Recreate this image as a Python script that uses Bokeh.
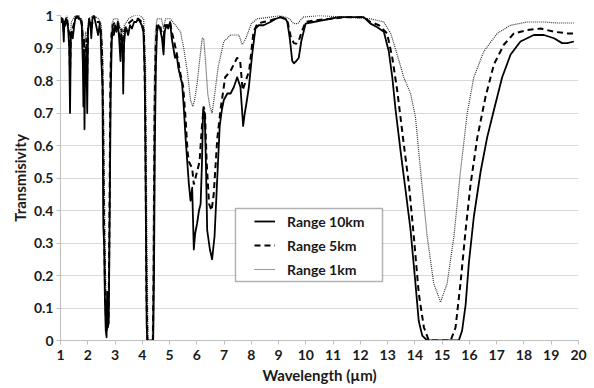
from bokeh.plotting import figure
from bokeh.models import Range1d, Legend, LegendItem, BoxAnnotation, FixedTicker, PrintfTickFormatter
from bokeh.embed import file_html
from bokeh.resources import INLINE

# ---- data ----
x_ticks = list(range(1, 21))
y_ticks = [0, 0.1, 0.2, 0.3, 0.4, 0.5, 0.6, 0.7, 0.8, 0.9, 1.0]
series_labels = ["Range 10km", "Range 5km", "Range 1km"]
x_title = "Wavelength (µm)"
y_title = "Transmisivity"

wl_10km = [1.00, 1.04, 1.07, 1.10, 1.12, 1.14, 1.17, 1.20, 1.24, 1.28, 1.32, 1.35, 1.38, 1.41, 1.45, 1.49,
           1.54, 1.60, 1.66, 1.72, 1.78, 1.82, 1.84, 1.86, 1.88, 1.90, 1.92, 1.95, 1.98, 2.01, 2.05, 2.10,
           2.13, 2.17, 2.22, 2.28, 2.33, 2.38, 2.43, 2.47, 2.50, 2.54, 2.57, 2.60, 2.63, 2.66, 2.69, 2.71,
           2.74, 2.77, 2.80, 2.84, 2.88, 2.92, 2.96, 3.00, 3.05, 3.10, 3.15, 3.20, 3.24, 3.28, 3.30, 3.33,
           3.37, 3.42, 3.48, 3.55, 3.62, 3.70, 3.78, 3.85, 3.92, 3.98, 4.04, 4.09, 4.13, 4.16, 4.18, 4.40,
           4.43, 4.46, 4.50, 4.54, 4.59, 4.65, 4.72, 4.78, 4.82, 4.88, 4.95, 5.02, 5.08, 5.14, 5.20, 5.26,
           5.32, 5.40, 5.46, 5.52, 5.59, 5.65, 5.71, 5.77, 5.83, 5.89, 5.94, 6.01, 6.08, 6.14, 6.19, 6.23,
           6.29, 6.34, 6.38, 6.48, 6.56, 6.65, 6.75, 6.84, 6.92, 6.99, 7.12, 7.24, 7.36, 7.48, 7.60, 7.70,
           7.76, 7.82, 7.91, 8.03, 8.15, 8.27, 8.45, 8.70, 8.90, 9.07, 9.25, 9.32, 9.41, 9.50, 9.56, 9.65,
           9.74, 9.83, 9.99, 10.28, 10.60, 10.90, 11.20, 11.53, 11.80, 12.12, 12.37, 12.62, 12.86, 13.04,
           13.17, 13.29, 13.47, 13.66, 13.84, 14.02, 14.14, 14.27, 14.45, 15.61, 15.73, 15.86, 15.98, 16.16,
           16.41, 16.65, 16.90, 17.20, 17.51, 17.87, 18.36, 18.73, 19.10, 19.40, 19.59, 19.83]
t_10km = [0.99, 0.98, 0.99, 0.96, 0.92, 0.98, 0.97, 0.99, 0.98, 0.96, 0.90, 0.70, 0.93, 0.95, 0.93, 0.96,
          0.99, 1.00, 0.99, 0.99, 0.97, 0.85, 0.72, 0.88, 0.65, 0.80, 0.81, 0.90, 0.70, 0.95, 0.99, 0.97,
          0.93, 0.99, 1.00, 0.98, 0.96, 0.94, 0.97, 0.95, 0.86, 0.78, 0.35, 0.30, 0.12, 0.03, 0.01, 0.15,
          0.04, 0.06, 0.35, 0.75, 0.92, 0.96, 0.94, 0.97, 0.95, 0.98, 0.93, 0.86, 0.94, 0.90, 0.76, 0.91,
          0.95, 0.96, 0.94, 0.97, 0.96, 0.98, 0.98, 0.99, 0.98, 0.97, 0.95, 0.82, 0.40, 0.05, 0.00, 0.00,
          0.20, 0.60, 0.85, 0.95, 0.97, 0.96, 0.93, 0.88, 0.95, 0.97, 0.96, 0.98, 0.93, 0.90, 0.87, 0.88,
          0.84, 0.81, 0.79, 0.72, 0.62, 0.55, 0.48, 0.43, 0.47, 0.28, 0.33, 0.36, 0.40, 0.42, 0.55, 0.71,
          0.70, 0.52, 0.34, 0.28, 0.25, 0.32, 0.50, 0.66, 0.71, 0.74, 0.76, 0.76, 0.78, 0.81, 0.78, 0.66,
          0.70, 0.73, 0.78, 0.88, 0.96, 0.97, 0.97, 0.98, 0.99, 0.995, 0.99, 0.98, 0.93, 0.86, 0.853, 0.86,
          0.87, 0.92, 0.975, 0.98, 0.985, 0.99, 0.995, 0.995, 0.995, 0.995, 0.975, 0.964, 0.95, 0.89,
          0.81, 0.71, 0.585, 0.46, 0.34, 0.175, 0.06, 0.015, 0.00, 0.00, 0.03, 0.11, 0.24, 0.38,
          0.52, 0.625, 0.71, 0.81, 0.88, 0.92, 0.94, 0.94, 0.93, 0.915, 0.915, 0.92]

wl_5km = [1.00, 1.07, 1.12, 1.17, 1.24, 1.32, 1.35, 1.38, 1.45, 1.54, 1.66, 1.78, 1.82, 1.84, 1.86, 1.88,
          1.92, 1.95, 1.98, 2.01, 2.10, 2.13, 2.22, 2.33, 2.43, 2.47, 2.52, 2.56, 2.59, 2.63, 2.67, 2.70,
          2.73, 2.76, 2.79, 2.83, 2.87, 2.92, 3.00, 3.10, 3.15, 3.20, 3.24, 3.30, 3.33, 3.42, 3.55, 3.70,
          3.85, 3.98, 4.06, 4.11, 4.15, 4.19, 4.39, 4.42, 4.45, 4.49, 4.54, 4.65, 4.78, 4.82, 4.95, 5.02,
          5.08, 5.14, 5.22, 5.32, 5.40, 5.50, 5.59, 5.66, 5.71, 5.77, 5.83, 5.89, 5.95, 6.01, 6.10, 6.18,
          6.25, 6.30, 6.36, 6.45, 6.54, 6.62, 6.75, 6.87, 7.04, 7.24, 7.48, 7.59, 7.68, 7.80, 7.92, 8.08,
          8.22, 8.45, 8.70, 9.07, 9.32, 9.45, 9.56, 9.65, 9.75, 9.85, 9.99, 10.30, 10.90, 11.50, 12.12,
          12.37, 12.68, 12.98, 13.17, 13.35, 13.59, 13.78, 13.96, 14.14, 14.33, 14.51, 15.31, 15.49, 15.67,
          15.86, 16.04, 16.29, 16.59, 16.90, 17.26, 17.63, 18.12, 18.61, 19.10, 19.59, 19.83]
t_5km = [0.99, 0.99, 0.95, 0.98, 0.99, 0.94, 0.82, 0.95, 0.96, 0.99, 1.00, 0.98, 0.92, 0.84, 0.93, 0.78,
         0.88, 0.93, 0.82, 0.97, 0.98, 0.96, 1.00, 0.98, 0.98, 0.96, 0.90, 0.70, 0.40, 0.18, 0.05, 0.03,
         0.12, 0.05, 0.30, 0.80, 0.94, 0.97, 0.98, 0.98, 0.96, 0.92, 0.96, 0.85, 0.95, 0.97, 0.98, 0.99,
         0.99, 0.98, 0.95, 0.70, 0.15, 0.00, 0.00, 0.25, 0.70, 0.90, 0.97, 0.97, 0.92, 0.97, 0.97, 0.98,
         0.95, 0.93, 0.90, 0.86, 0.82, 0.78, 0.68, 0.58, 0.55, 0.54, 0.53, 0.48, 0.50, 0.52, 0.55, 0.65,
         0.72, 0.70, 0.55, 0.42, 0.40, 0.45, 0.62, 0.71, 0.81, 0.83, 0.87, 0.86, 0.77, 0.80, 0.83, 0.95,
         0.975, 0.98, 0.985, 0.995, 0.985, 0.933, 0.915, 0.913, 0.925, 0.95, 0.98, 0.985, 0.99, 0.995, 0.995,
         0.98, 0.97, 0.945, 0.87, 0.77, 0.605, 0.48, 0.32, 0.145, 0.04, 0.00, 0.00, 0.04, 0.175,
         0.34, 0.48, 0.625, 0.75, 0.85, 0.91, 0.945, 0.955, 0.96, 0.95, 0.945, 0.945]

wl_1km = [1.00, 1.12, 1.24, 1.35, 1.40, 1.54, 1.78, 1.84, 1.88, 1.92, 1.98, 2.03, 2.22, 2.40, 2.50, 2.56,
          2.60, 2.64, 2.68, 2.71, 2.74, 2.77, 2.80, 2.83, 2.87, 2.95, 3.10, 3.20, 3.30, 3.34, 3.50, 3.70,
          3.90, 4.05, 4.12, 4.17, 4.21, 4.37, 4.40, 4.44, 4.48, 4.54, 4.70, 4.78, 4.85, 5.02, 5.22, 5.40,
          5.52, 5.59, 5.65, 5.77, 5.85, 5.92, 6.01, 6.10, 6.20, 6.25, 6.32, 6.40, 6.48, 6.56, 6.66, 6.78,
          6.99, 7.24, 7.54, 7.67, 7.80, 8.00, 8.22, 8.70, 9.07, 9.40, 9.56, 9.70, 9.90, 10.50, 12.37, 12.86,
          13.11, 13.35, 13.59, 13.84, 14.02, 14.21, 14.45, 14.69, 14.94, 15.18, 15.43, 15.67, 15.92, 16.16,
          16.53, 17.02, 17.51, 18.12, 18.73, 19.22, 19.83]
t_1km = [1.00, 0.98, 1.00, 0.92, 0.98, 1.00, 0.99, 0.94, 0.90, 0.95, 0.93, 0.99, 1.00, 0.99, 0.97, 0.85,
         0.55, 0.25, 0.08, 0.06, 0.15, 0.10, 0.40, 0.85, 0.97, 0.99, 0.99, 0.96, 0.92, 0.97, 0.99, 1.00,
         1.00, 0.99, 0.85, 0.30, 0.00, 0.00, 0.30, 0.80, 0.95, 0.99, 0.99, 0.96, 0.99, 0.99, 0.97, 0.95,
         0.90, 0.86, 0.83, 0.74, 0.72, 0.74, 0.79, 0.86, 0.93, 0.93, 0.86, 0.76, 0.72, 0.70, 0.76, 0.84,
         0.92, 0.94, 0.94, 0.91, 0.93, 0.975, 0.99, 0.995, 1.00, 0.99, 0.975, 0.975, 0.995, 1.00, 0.99, 0.98,
         0.945, 0.88, 0.81, 0.76, 0.687, 0.52, 0.32, 0.175, 0.118, 0.175, 0.32, 0.52, 0.70, 0.81,
         0.89, 0.945, 0.97, 0.98, 0.98, 0.977, 0.977]

FONT = "Lato"
TXT = "#1a1a1a"
AXC = "#bfbfbf"

p = figure(width=594, height=388, x_range=Range1d(1, 20), y_range=Range1d(0, 1),
           output_backend="svg", toolbar_location=None,
           min_border_left=60, min_border_right=16, min_border_top=15, min_border_bottom=48)
p.outline_line_color = None
p.xgrid.grid_line_color = None
p.ygrid.grid_line_color = "#d9d9d9"
p.ygrid.grid_line_width = 1

p.xaxis.ticker = FixedTicker(ticks=x_ticks)
p.yaxis.ticker = FixedTicker(ticks=y_ticks)
p.yaxis.formatter = PrintfTickFormatter(format="%g")

for ax in (p.xaxis, p.yaxis):
    ax.axis_line_color = AXC
    ax.major_tick_line_color = AXC
    ax.major_tick_out = 4
    ax.major_tick_in = 0
    ax.minor_tick_line_color = None
    ax.major_label_text_font = FONT
    ax.major_label_text_font_style = "bold"
    ax.major_label_text_font_size = "14px"
    ax.major_label_text_color = TXT
    ax.axis_label_text_font = FONT
    ax.axis_label_text_font_style = "bold"
    ax.axis_label_text_font_size = "15px"
    ax.axis_label_text_color = TXT

p.xaxis.axis_label = x_title
p.yaxis.axis_label = y_title
p.xaxis.major_label_standoff = 5
p.xaxis.axis_label_standoff = 3
p.yaxis.major_label_standoff = 3
p.yaxis.axis_label_standoff = 2

r1 = p.line(wl_1km, t_1km, line_color="#333333", line_width=1.2, line_dash="1 1")
r5 = p.line(wl_5km, t_5km, line_color="black", line_width=2, line_dash="6 4")
r10 = p.line(wl_10km, t_10km, line_color="black", line_width=1.8, line_join="round")

box = BoxAnnotation(left=175, right=322, top=132, bottom=59,
                    left_units="screen", right_units="screen", top_units="screen", bottom_units="screen",
                    fill_color="white", fill_alpha=1.0, line_color="black", line_width=1.5)
p.add_layout(box)

legend = Legend(items=[LegendItem(label=series_labels[0], renderers=[r10]),
                       LegendItem(label=series_labels[1], renderers=[r5]),
                       LegendItem(label=series_labels[2], renderers=[r1])],
                location=(194, 61), padding=0, margin=0, spacing=4,
                label_height=20, glyph_height=20, glyph_width=21, label_standoff=12,
                border_line_alpha=0, background_fill_alpha=0,
                label_text_font=FONT, label_text_font_style="bold",
                label_text_font_size="14px", label_text_color=TXT)
p.add_layout(legend)

open("out.html", "w").write(file_html(p, INLINE))
